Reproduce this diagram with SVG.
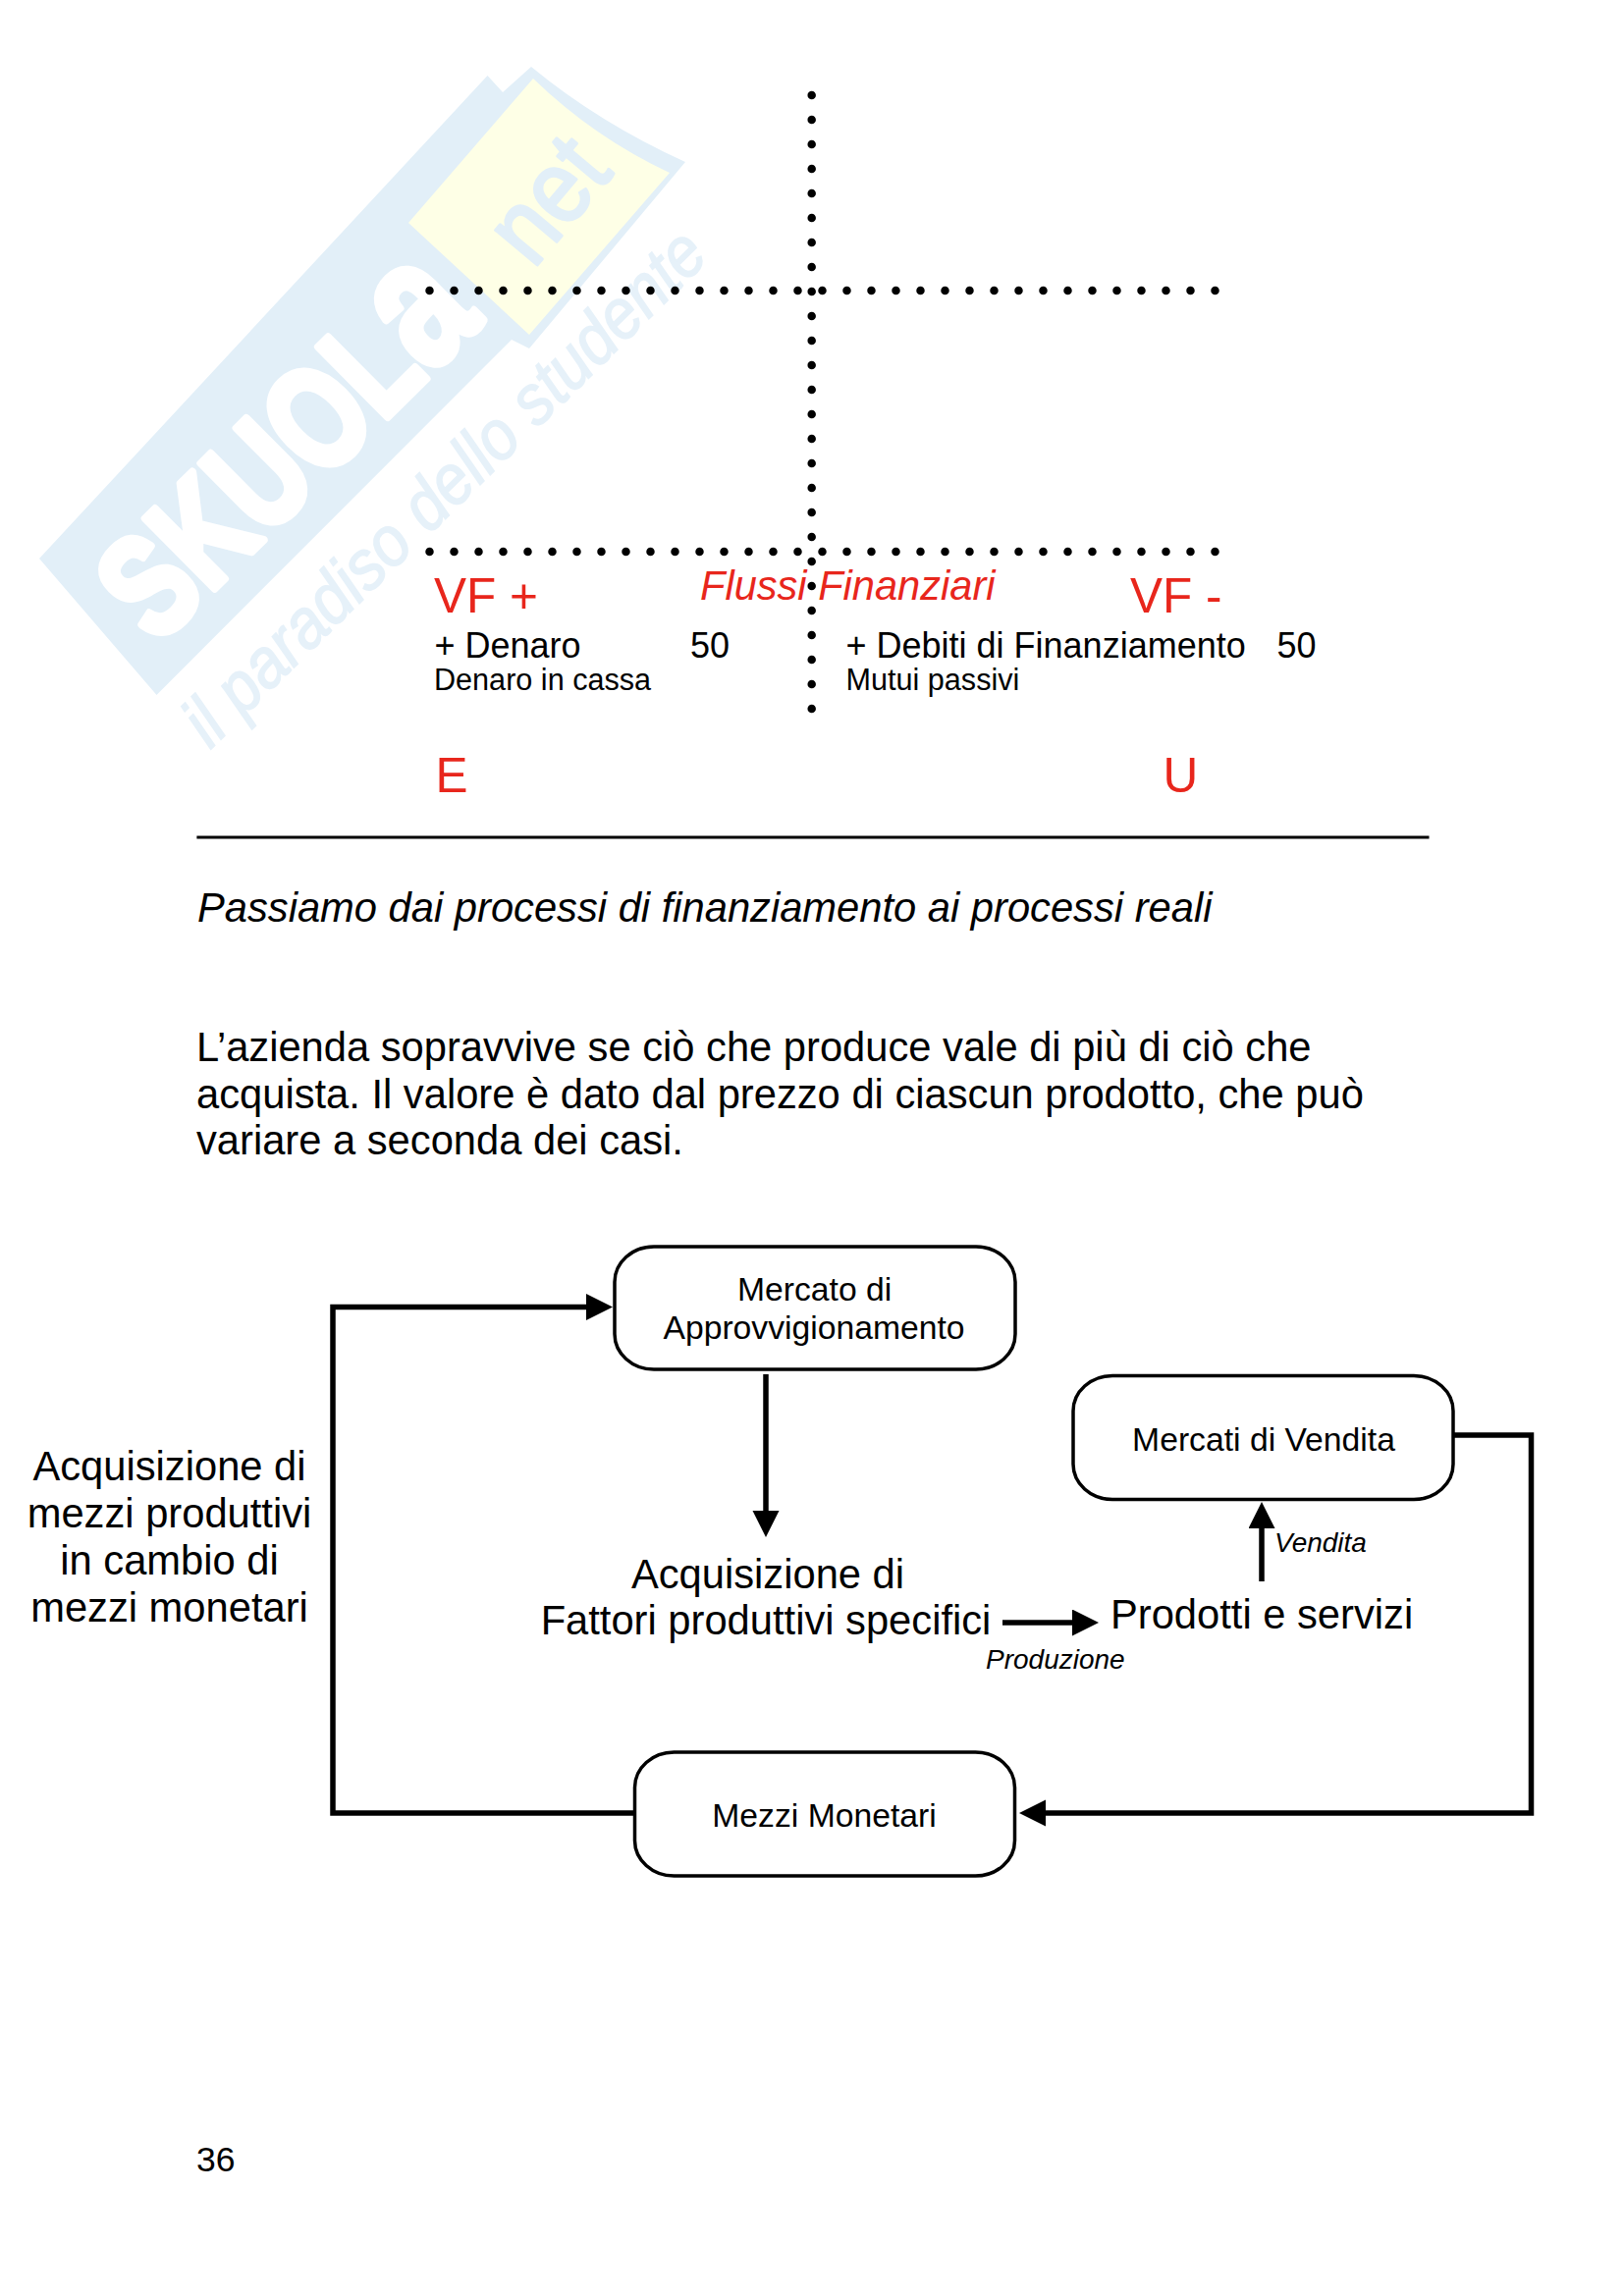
<svg xmlns="http://www.w3.org/2000/svg" width="1654" height="2339" viewBox="0 0 1654 2339">
<style>
text{font-family:"Liberation Sans",Arial,sans-serif;fill:#000}
.red{fill:#e8261c}
.i{font-style:italic}
.c{text-anchor:middle}
.t49{font-size:49.5px}.t36{font-size:36px}.t30{font-size:30.6px}.t34{font-size:33.7px}.t42{font-size:41.7px}.t28{font-size:28px}
.box{fill:#fff;stroke:#000;stroke-width:3.5}
.conn{fill:none;stroke:#000;stroke-width:5.5}
.dots{fill:none;stroke:#000;stroke-width:8.5;stroke-linecap:round;stroke-dasharray:0 25}
.wm{fill:#e2eff8}
</style>
<defs>
<marker id="ah" markerUnits="userSpaceOnUse" markerWidth="28" markerHeight="28" refX="7" refY="13.5" orient="auto"><path d="M0 0L27 13.5L0 27Z" fill="#000"/></marker>
</defs>
<rect width="1654" height="2339" fill="#fff"/>
<g id="watermark">
<path class="wm" d="M496.5 77L512 94L541 68Q610 125 698 165L539 355L521 346L159.5 708L40 569Z"/>
<path fill="#feffe6" d="M543 80Q605 140 682 176L539 341L416 227Z"/>
<text transform="translate(160,658) rotate(-44.8)" textLength="470" lengthAdjust="spacingAndGlyphs" style="font-size:146px;font-weight:bold;fill:#fff;stroke:#fff;stroke-width:8;stroke-linejoin:round">SKUOL<tspan style="font-size:186px">a</tspan></text>
<text transform="translate(543,275) rotate(-50)" textLength="129" lengthAdjust="spacingAndGlyphs" style="font-size:105px;fill:#e2eff8;stroke:#e2eff8;stroke-width:3;stroke-linejoin:round">net</text>
<text transform="translate(214,764) rotate(-44.5)" textLength="715" lengthAdjust="spacingAndGlyphs" class="i" style="font-size:72px;fill:#e6f1f9;stroke:#e6f1f9;stroke-width:1.5">il paradiso dello studente</text>
</g>
<g id="connectors">
<path class="dots" d="M437.5 296H1239"/>
<path class="dots" d="M437.5 562H1239"/>
<path class="dots" d="M826.7 97V724"/>
<path class="conn" d="M645 1847H339V1331.5H604" marker-end="url(#ah)"/>
<path class="conn" d="M780 1400V1546" marker-end="url(#ah)"/>
<path class="conn" d="M1021 1653H1099" marker-end="url(#ah)"/>
<path class="conn" d="M1285 1611V1550" marker-end="url(#ah)"/>
<path class="conn" d="M1479 1462H1559.5V1847H1058" marker-end="url(#ah)"/>
<path d="M200.4 853H1455.5" fill="none" stroke="#000" stroke-width="3.2"/>
</g>
<g id="ledger">
<text class="red t49" x="442" y="624">VF +</text>
<text class="red i" x="713" y="610.7" style="font-size:41.6px">Flussi Finanziari</text>
<text class="red t49" x="1151" y="624">VF -</text>
<text class="t36" x="442.5" y="670">+ Denaro</text>
<text class="t36" x="703" y="670">50</text>
<text class="t30" x="442" y="703">Denaro in cassa</text>
<text class="t36" x="861.5" y="670">+ Debiti di Finanziamento</text>
<text class="t36" x="1300.5" y="670">50</text>
<text class="t30" x="861.5" y="703">Mutui passivi</text>
<text class="red t49" x="443.5" y="806.7">E</text>
<text class="red t49" x="1184.5" y="806.7">U</text>
</g>
<g id="body-text">
<text class="i t42" x="201" y="939">Passiamo dai processi di finanziamento ai processi reali</text>
<text class="t42" x="200" y="1080.7">L’azienda sopravvive se ciò che produce vale di più di ciò che</text>
<text class="t42" x="200" y="1128.5">acquista. Il valore è dato dal prezzo di ciascun prodotto, che può</text>
<text class="t42" x="200" y="1175.5">variare a seconda dei casi.</text>
<text x="200" y="2211.5" style="font-size:35.5px">36</text>
</g>
<g id="node-mercato"><rect class="box" x="626" y="1270" width="408" height="125" rx="40" ry="36"/><text class="t34 c" x="829.6" y="1324.5">Mercato di</text><text class="t34 c" x="829" y="1364">Approvvigionamento</text></g>
<g id="node-vendita"><rect class="box" x="1093" y="1401.5" width="387" height="126" rx="40" ry="36"/><text class="t34 c" x="1287" y="1477.5">Mercati di Vendita</text></g>
<g id="node-mezzi"><rect class="box" x="646.5" y="1785" width="387" height="126" rx="40" ry="36"/><text class="t34 c" x="839.5" y="1860.7">Mezzi Monetari</text></g>
<g id="label-acquisizione"><text class="t42 c" x="172.5" y="1508">Acquisizione di</text><text class="t42 c" x="172.5" y="1556">mezzi produttivi</text><text class="t42 c" x="172.5" y="1604">in cambio di</text><text class="t42 c" x="172.5" y="1652">mezzi monetari</text></g>
<g id="label-fattori"><text class="t42 c" x="782" y="1617.5">Acquisizione di</text><text class="t42 c" x="780" y="1664.5">Fattori produttivi specifici</text></g>
<g id="label-prodotti"><text class="t42" x="1131" y="1658.5">Prodotti e servizi</text></g>
<g id="label-produzione"><text class="i t28" x="1004" y="1699.6">Produzione</text></g>
<g id="label-vendita"><text class="i t28" x="1298" y="1580.7">Vendita</text></g>
</svg>
